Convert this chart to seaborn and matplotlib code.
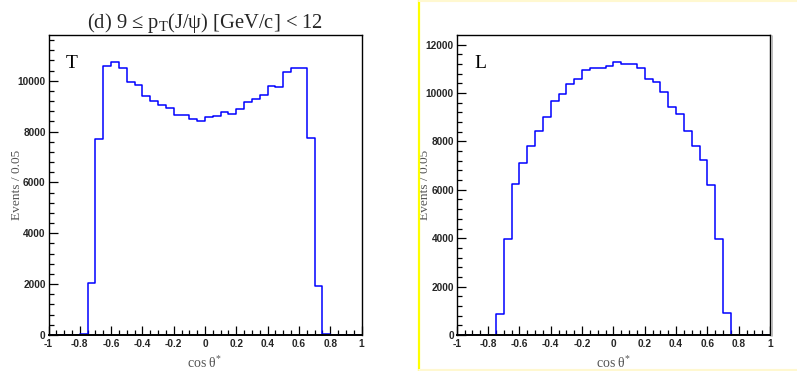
import matplotlib
matplotlib.use('Agg')
import matplotlib.pyplot as plt
from matplotlib.lines import Line2D
from matplotlib.ticker import MultipleLocator, FuncFormatter
import numpy as np
import pandas as pd
import seaborn as sns

# cos theta* binning: 40 bins of 0.05 from -1 to 1
edges = np.linspace(-1, 1, 41)
centers = 0.5 * (edges[:-1] + edges[1:])

# Events / 0.05, transverse (T) polarisation
counts_T = [0, 0, 0, 0,
            20, 2040, 7700, 10570, 10730, 10490, 9970, 9850, 9400, 9200,
            9030, 8950, 8640, 8640, 8480, 8430, 8560, 8600, 8780, 8710,
            8880, 9150, 9280, 9430, 9800, 9750, 10330, 10520, 10520, 7740,
            1910, 20,
            0, 0, 0, 0]

# Events / 0.05, longitudinal (L) polarisation
counts_L = [0, 0, 0, 0,
            20, 870, 3960, 6260, 7100, 7830, 8450, 9020, 9650, 9940,
            10370, 10580, 10960, 11050, 11050, 11130, 11270, 11180, 11180, 11050,
            10580, 10450, 10040, 9420, 9130, 8410, 7820, 7230, 6180, 3960,
            900, 20,
            0, 0, 0, 0]

TITLE = '(d) 9 ≤ p$_\\mathregular{T}$(J/ψ) [GeV/c] < 12'

sns.set_style('white')
plt.rcParams['font.family'] = ['Liberation Serif', 'DejaVu Serif']
plt.rcParams['mathtext.fontset'] = 'custom'
plt.rcParams['mathtext.rm'] = 'Liberation Serif'
plt.rcParams['mathtext.it'] = 'Liberation Serif:italic'

fig = plt.figure(figsize=(7.97, 3.71), dpi=100)
W, H = 797, 371


def add_axes(x0, x1, y0, y1):
    return fig.add_axes([x0 / W, 1 - y1 / H, (x1 - x0) / W, (y1 - y0) / H])


def draw_hist(ax, counts):
    df = pd.DataFrame({'cos': centers, 'n': counts})
    sns.histplot(data=df, x='cos', weights='n', bins=len(centers), binrange=(-1, 1),
                 element='step', fill=False, color='blue', linewidth=1.1, ax=ax)


def style_axis(ax, counts, letter):
    ax.set_xlim(-1, 1)
    ax.set_ylim(0, max(counts) * 1.1)
    ax.xaxis.set_major_locator(MultipleLocator(0.2))
    ax.xaxis.set_minor_locator(MultipleLocator(0.05))
    ax.yaxis.set_major_locator(MultipleLocator(2000))
    ax.yaxis.set_minor_locator(MultipleLocator(400))
    fmt = FuncFormatter(lambda v, p: '%g' % round(v, 6))
    ax.xaxis.set_major_formatter(fmt)
    ax.yaxis.set_major_formatter(fmt)
    ax.tick_params(which='both', direction='in', bottom=True, left=True,
                   top=False, right=False, color='black', width=0.9)
    ax.tick_params(which='major', length=6.5)
    ax.tick_params(which='minor', length=3.3)
    ax.tick_params(axis='x', which='major', pad=2.6)
    ax.tick_params(axis='y', which='major', pad=2)
    for lab in ax.get_xticklabels() + ax.get_yticklabels():
        lab.set_family('Liberation Sans')
        lab.set_fontweight('bold')
        lab.set_fontsize(7.3)
    for sp in ax.spines.values():
        sp.set_visible(True)
        sp.set_color('black')
        sp.set_linewidth(1.0)
        sp.set_zorder(5)
    ax.spines['bottom'].set_linewidth(1.4)
    ax.set_xlabel('cos θ$^{*}$', fontsize=10, color='#555555')
    ax.set_ylabel('Events / 0.05', fontsize=9.6, color='#555555')
    ax.xaxis.set_label_coords(0.5, -0.068)
    ax.xaxis.label.set_va('top')
    ax.yaxis.set_label_coords(-0.081, 0.5)
    ax.text(0.075, 0.905, letter, transform=ax.transAxes, fontsize=14,
            ha='center', va='center', color='black')


ax1 = add_axes(48.5, 361.5, 35, 335)
draw_hist(ax1, counts_T)
style_axis(ax1, counts_T, 'T')
ax1.set_title(TITLE, fontsize=14.8, pad=5)

ax2 = add_axes(456.7, 770, 35, 335)
draw_hist(ax2, counts_L)
style_axis(ax2, counts_L, 'L')

# pad shadow on the right edge of the L frame
fig.add_artist(Line2D([771.5 / W, 771.5 / W], [1 - 336 / H, 1 - 36 / H],
                      color='#b0b0b0', lw=1.2))

# yellow highlight frame round the right pad
fig.add_artist(Line2D([418.5 / W, 418.5 / W], [0, 1], color='#ffff00', lw=1.6))
fig.add_artist(Line2D([418.5 / W, 1], [1 - 0.5 / H, 1 - 0.5 / H], color='#fff8d0', lw=1.5))
fig.add_artist(Line2D([418.5 / W, 1], [1.5 / H, 1.5 / H], color='#fff8d0', lw=1.5))

plt.savefig('out.png', dpi=100)
